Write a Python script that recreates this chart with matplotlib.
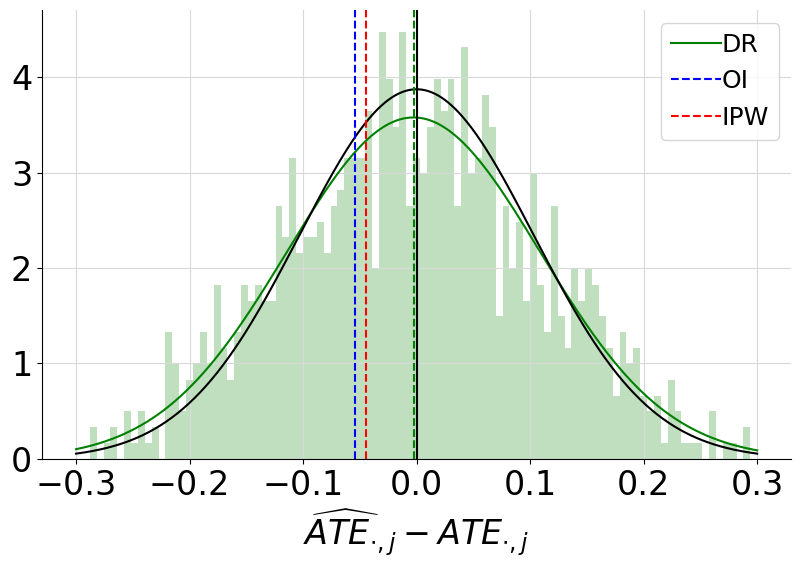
import numpy as np
import matplotlib
matplotlib.use('Agg')
import matplotlib.pyplot as plt

# histogram of estimation errors, 99 bins between -0.3 and 0.3
bin_edges = np.linspace(-0.3, 0.3, 100)
bin_counts = [0, 0, 2, 0, 1, 2, 0, 3, 1, 3,
              1, 2, 0, 8, 6, 3, 5, 6, 8, 6,
              11, 7, 5, 8, 11, 10, 11, 10, 10, 16,
              14, 19, 13, 14, 14, 15, 13, 16, 17, 19,
              19, 19, 22, 12, 27, 24, 21, 27, 16, 19,
              18, 21, 24, 22, 24, 16, 26, 18, 19, 23,
              21, 9, 16, 12, 15, 10, 18, 11, 8, 16,
              9, 7, 12, 10, 12, 11, 9, 7, 4, 8,
              6, 7, 4, 3, 4, 1, 5, 3, 1, 1,
              1, 0, 3, 0, 1, 1, 0, 2, 0]

# fitted normal curves and mean errors
dr_mean = -0.0027
dr_sd = 0.1115
true_mean = 0.0
true_sd = 0.1030
oi_mean = -0.0546
ipw_mean = -0.0449


def normpdf(x, mu, sd):
	return np.exp(-0.5 * ((x - mu) / sd) ** 2) / (sd * np.sqrt(2 * np.pi))


fig, ax = plt.subplots(figsize=(8, 5.68), dpi=100)
fig.subplots_adjust(left=0.0525, right=0.989, top=0.982, bottom=0.192)

ax.hist(bin_edges[:-1], bins=bin_edges, weights=bin_counts, density=True,
		color='green', alpha=0.25)
xs = np.linspace(-0.3, 0.3, 600)
ax.plot(xs, normpdf(xs, dr_mean, dr_sd), color='green', label='DR')
ax.plot(xs, normpdf(xs, true_mean, true_sd), color='black')
ax.axvline(oi_mean, color='blue', linestyle='--', label='OI')
ax.axvline(ipw_mean, color='red', linestyle='--', label='IPW')
ax.axvline(dr_mean, color='green', linestyle='--')
ax.axvline(true_mean, color='black')

ax.grid(True, color='#d9d9d9', linewidth=0.8)
ax.spines['top'].set_visible(False)
ax.spines['right'].set_visible(False)
ax.set_xticks([-0.3, -0.2, -0.1, 0.0, 0.1, 0.2, 0.3])
ax.set_yticks([0, 1, 2, 3, 4])
ax.tick_params(labelsize=24)
ax.set_xlabel(r'$\widehat{ATE}_{\cdot,j} - ATE_{\cdot,j}$', fontsize=24)
ax.legend(loc='upper right', fontsize=18, handletextpad=0.0)

fig.savefig('out.png', dpi=100)
